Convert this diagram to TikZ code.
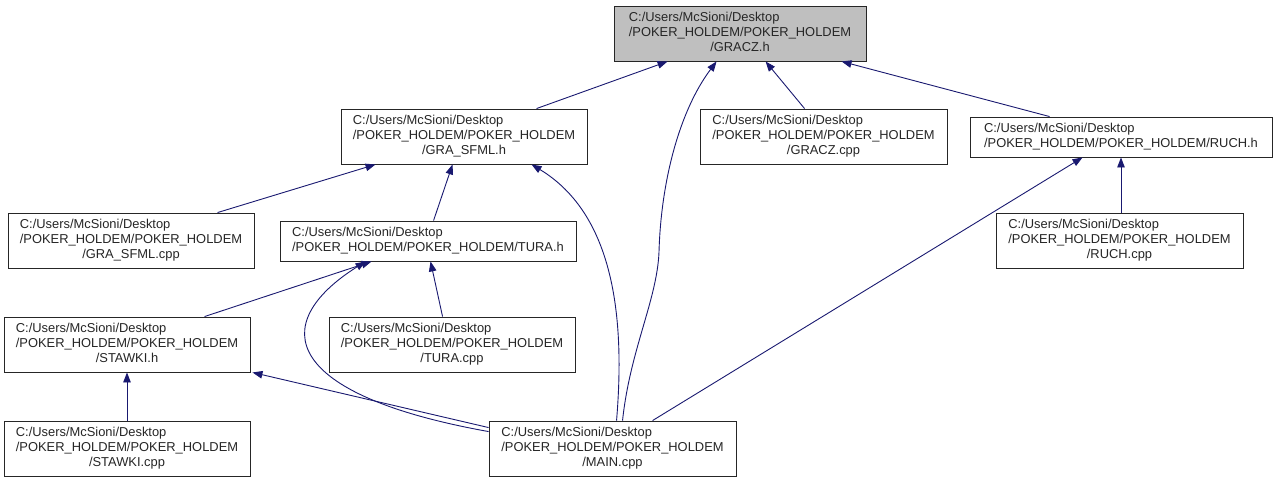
\documentclass[tikz,border=0pt]{standalone}
\usepackage{fontspec}
\setmainfont{Liberation Sans}
\usetikzlibrary{arrows.meta,calc}
\definecolor{edgeblue}{HTML}{191970}
\definecolor{hlgray}{HTML}{BFBFBF}
\newcommand\threel[3]{\begin{tabular}{@{}l@{}}#1\\#2\\\multicolumn{1}{@{}c@{}}{#3}\end{tabular}}
\newcommand\twol[2]{\begin{tabular}{@{}l@{}}#1\\#2\end{tabular}}
\tikzset{
  filebox/.style={draw=black!85, line width=0.9pt, fill=white, rectangle, inner sep=0pt,
    font=\fontsize{12.9}{15}\selectfont, text=black!85},
  dep/.style={draw=edgeblue, line width=0.9pt, -{Triangle[length=10pt,width=7.5pt]}},
}
\begin{document}
\begin{tikzpicture}[x=1pt,y=-1pt]
\useasboundingbox (0,0) rectangle (1275,483);
\node[filebox, fill=hlgray, minimum width=252pt, minimum height=55pt] (graczh) at (740,33.5)
  {\threel{C:/Users/McSioni/Desktop}{/POKER\_HOLDEM/POKER\_HOLDEM}{/GRACZ.h}};
\node[filebox, minimum width=246pt, minimum height=55pt] (grasfmlh) at (464,136.5)
  {\threel{C:/Users/McSioni/Desktop}{/POKER\_HOLDEM/POKER\_HOLDEM}{/GRA\_SFML.h}};
\node[filebox, minimum width=247pt, minimum height=55pt] (graczcpp) at (823.5,136.5)
  {\threel{C:/Users/McSioni/Desktop}{/POKER\_HOLDEM/POKER\_HOLDEM}{/GRACZ.cpp}};
\node[filebox, minimum width=302pt, minimum height=40pt] (ruchh) at (1121,137)
  {\twol{C:/Users/McSioni/Desktop}{/POKER\_HOLDEM/POKER\_HOLDEM/RUCH.h}};
\node[filebox, minimum width=246pt, minimum height=55pt] (grasfmlcpp) at (131,240.5)
  {\threel{C:/Users/McSioni/Desktop}{/POKER\_HOLDEM/POKER\_HOLDEM}{/GRA\_SFML.cpp}};
\node[filebox, minimum width=296pt, minimum height=40pt] (turah) at (428,241)
  {\twol{C:/Users/McSioni/Desktop}{/POKER\_HOLDEM/POKER\_HOLDEM/TURA.h}};
\node[filebox, minimum width=247pt, minimum height=55pt] (ruchcpp) at (1119.5,240.5)
  {\threel{C:/Users/McSioni/Desktop}{/POKER\_HOLDEM/POKER\_HOLDEM}{/RUCH.cpp}};
\node[filebox, minimum width=246pt, minimum height=55pt] (stawkih) at (127,344.5)
  {\threel{C:/Users/McSioni/Desktop}{/POKER\_HOLDEM/POKER\_HOLDEM}{/STAWKI.h}};
\node[filebox, minimum width=246pt, minimum height=55pt] (turacpp) at (452,344.5)
  {\threel{C:/Users/McSioni/Desktop}{/POKER\_HOLDEM/POKER\_HOLDEM}{/TURA.cpp}};
\node[filebox, minimum width=246pt, minimum height=55pt] (stawkicpp) at (127,448.5)
  {\threel{C:/Users/McSioni/Desktop}{/POKER\_HOLDEM/POKER\_HOLDEM}{/STAWKI.cpp}};
\node[filebox, minimum width=247pt, minimum height=55pt] (maincpp) at (612.5,448.5)
  {\threel{C:/Users/McSioni/Desktop}{/POKER\_HOLDEM/POKER\_HOLDEM}{/MAIN.cpp}};

\coordinate (bend) at (659,252);
% edges (child -> parent)
\draw[dep] ($(grasfmlh.north west)+(196,0)$) -- ($(graczh.south west)+(54,0)$);
\draw[dep] ($(graczcpp.north west)+(105,0)$) -- ($(graczh.south west)+(152,0)$);
\draw[dep] ($(ruchh.north west)+(80,0)$) -- ($(graczh.south west)+(228,0)$);
\draw[dep] ($(maincpp.north west)+(134,0)$) .. controls (630,350) and (657,300) .. (bend)
  .. controls (661,180) and (680,110) .. ($(graczh.south west)+(103,0)$);
\draw[dep] ($(grasfmlcpp.north west)+(210,0)$) -- ($(grasfmlh.south west)+(35,0)$);
\draw[dep] ($(turah.north west)+(154,0)$) -- ($(grasfmlh.south west)+(112,0)$);
\draw[dep] ($(maincpp.north west)+(128,0)$) .. controls (625,320) and (615,215) .. ($(grasfmlh.south west)+(191,0)$);
\draw[dep] ($(stawkih.north west)+(201,0)$) -- ($(turah.south west)+(92,0)$);
\draw[dep] ($(maincpp.north west)+(0,11)$) .. controls (285,395) and (265,325) .. ($(turah.south west)+(86,0)$);
\draw[dep] ($(turacpp.north west)+(114,0)$) -- ($(turah.south west)+(151,0)$);
\draw[dep] ($(maincpp.north west)+(0,7)$) -- ($(stawkih.south east)+(2,0)$);
\draw[dep] (stawkicpp.north) -- (stawkih.south);
\draw[dep] ($(maincpp.north west)+(164,0)$) -- ($(ruchh.south west)+(113,0)$);
\draw[dep] (ruchcpp.north -| ruchh.south) -- (ruchh.south);
\end{tikzpicture}
\end{document}
